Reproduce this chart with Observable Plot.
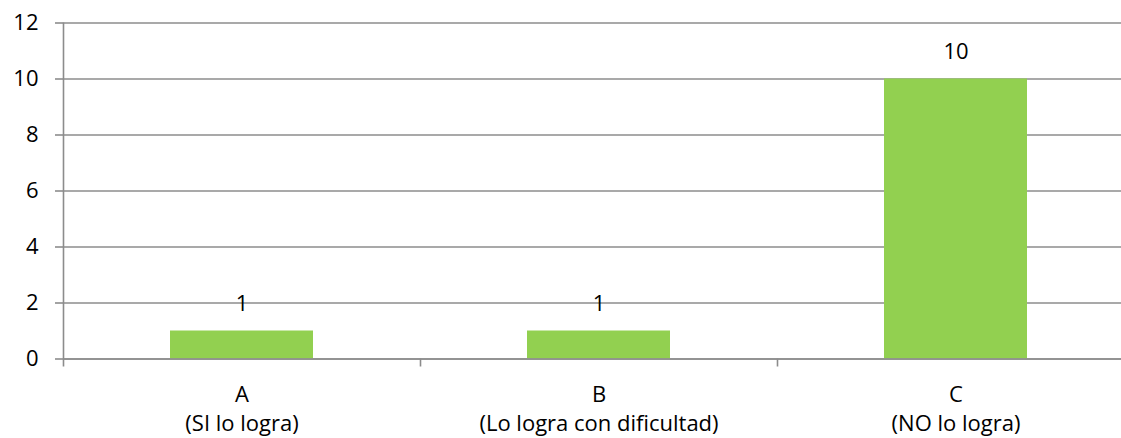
<!DOCTYPE html>
<html>
<head>
<meta charset="utf-8">
<script src="https://cdn.jsdelivr.net/npm/d3@7"></script>
<script src="https://cdn.jsdelivr.net/npm/@observablehq/plot@0.6"></script>
<style>
  html, body { margin: 0; padding: 0; background: #fff; overflow: hidden; }
  #chart svg { display: block; }
</style>
</head>
<body>
<div id="chart"></div>
<script>
const categories = ["A", "B", "C"];
const descriptions = ["(SI lo logra)", "(Lo logra con dificultad)", "(NO lo logra)"];
const values = [1, 1, 10];
const yTicks = [0, 2, 4, 6, 8, 10, 12];

const data = categories.map((c, i) => ({cat: c, desc: descriptions[i], value: values[i]}));

const W = 1121, H = 438;
const mL = 63, mR = -13, mT = 22.5, mB = 79.5;
const step = (W - mL - mR) / categories.length;
const gridColor = "#8c8c8c";
const font = "'Open Sans', sans-serif";
const fs = 22;

const chart = Plot.plot({
  width: W,
  height: H,
  marginLeft: mL,
  marginRight: mR,
  marginTop: mT,
  marginBottom: mB,
  style: {fontFamily: font, fontSize: fs + "px", color: "#000", background: "#fff"},
  x: {domain: categories, paddingInner: 0.6, paddingOuter: 0.3},
  y: {domain: [0, 12]},
  marks: [
    Plot.gridY(yTicks, {stroke: gridColor, strokeOpacity: 1, strokeWidth: 1.6}),
    Plot.axisY(yTicks, {tickSize: 8, tickPadding: 17, stroke: gridColor, strokeWidth: 1.6, fontSize: fs, label: null, fill: "#000"}),
    Plot.barY(data, {x: "cat", y: "value", fill: "#92D050"}),
    Plot.ruleY([0], {stroke: gridColor, strokeWidth: 1.6}),
    Plot.ruleX([categories[0]], {x: d => d, dx: -step / 2, y1: 12, y2: 0, insetBottom: -8, stroke: gridColor, strokeWidth: 1.6}),
    Plot.ruleX(categories.slice(1), {x: d => d, dx: -step / 2, y1: 0, y2: 0, insetBottom: -8, stroke: gridColor, strokeWidth: 1.6}),
    Plot.text(data, {x: "cat", y: "value", text: d => String(d.value), dy: -27, fontSize: fs, fill: "#000"}),
    Plot.axisX(categories, {tickSize: 0, tickPadding: 27, fontSize: fs, label: null, fill: "#000"}),
    Plot.axisX(categories, {tickSize: 0, tickPadding: 56, fontSize: fs, label: null, fill: "#000",
      tickFormat: c => descriptions[categories.indexOf(c)]})
  ]
});
document.getElementById("chart").appendChild(chart);
</script>
</body>
</html>
